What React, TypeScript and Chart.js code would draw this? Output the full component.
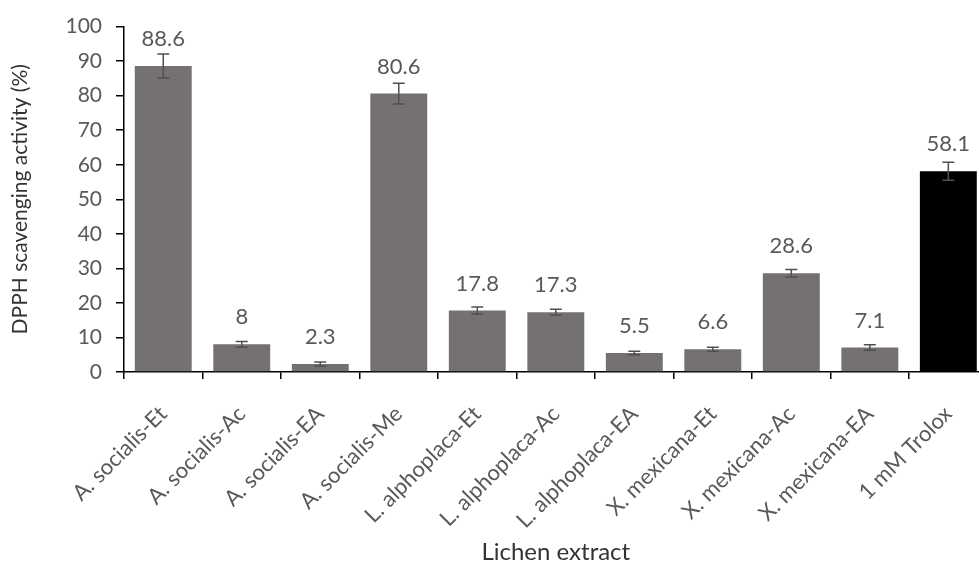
import React, { useEffect, useRef } from "react";
import { Chart, registerables } from "chart.js";

Chart.register(...registerables);

const categories = [
  "A. socialis-Et",
  "A. socialis-Ac",
  "A. socialis-EA",
  "A. socialis-Me",
  "L. alphoplaca-Et",
  "L. alphoplaca-Ac",
  "L. alphoplaca-EA",
  "X. mexicana-Et",
  "X. mexicana-Ac",
  "X. mexicana-EA",
  "1 mM Trolox",
];
const values = [88.6, 8, 2.3, 80.6, 17.8, 17.3, 5.5, 6.6, 28.6, 7.1, 58.1];
const errors = [3.5, 0.8, 0.6, 3.0, 1.0, 0.9, 0.5, 0.6, 1.1, 0.8, 2.6];
const barColors = [
  "#767171", "#767171", "#767171", "#767171", "#767171", "#767171",
  "#767171", "#767171", "#767171", "#767171", "#000000",
];
const yMin = 0;
const yMax = 100;
const yStep = 10;

const FONT = "Lato, 'Open Sans', sans-serif";
const TEXT = "#595959";

const errorAndLabels = {
  id: "errorAndLabels",
  afterDatasetsDraw(chart: any) {
    const ctx = chart.ctx;
    const meta = chart.getDatasetMeta(0);
    const y = chart.scales.y;
    ctx.save();
    meta.data.forEach((bar: any, i: number) => {
      const x = bar.x;
      const v = values[i];
      const e = errors[i];
      const yt = y.getPixelForValue(v + e);
      const yb = y.getPixelForValue(v - e);
      ctx.strokeStyle = "#505050";
      ctx.lineWidth = 1.5;
      ctx.beginPath();
      ctx.moveTo(x, yt);
      ctx.lineTo(x, yb);
      ctx.moveTo(x - 6, yt);
      ctx.lineTo(x + 6, yt);
      ctx.moveTo(x - 6, yb);
      ctx.lineTo(x + 6, yb);
      ctx.stroke();
      ctx.fillStyle = TEXT;
      ctx.font = `22px ${FONT}`;
      ctx.textAlign = "center";
      ctx.textBaseline = "middle";
      ctx.fillText(String(v), x, y.getPixelForValue(v) - 27);
    });
    ctx.restore();
  },
};

export default function App() {
  const ref = useRef<HTMLCanvasElement>(null);
  useEffect(() => {
    document.body.style.margin = "0";
    const chart = new Chart(ref.current as HTMLCanvasElement, {
      type: "bar",
      data: {
        labels: categories,
        datasets: [
          {
            data: values,
            backgroundColor: barColors,
            borderWidth: 0,
            barPercentage: 0.725,
            categoryPercentage: 1,
          },
        ],
      },
      options: {
        animation: false,
        responsive: false,
        layout: { padding: { top: 23, right: 0, left: 0, bottom: 0 } },
        plugins: { legend: { display: false }, tooltip: { enabled: false } },
        scales: {
          x: {
            afterFit(scale: any) {
              scale.height = 199;
            },
            grid: {
              offset: true,
              drawOnChartArea: false,
              drawTicks: true,
              tickLength: 7,
              color: "#000",
              lineWidth: 1.5,
            },
            border: { display: true, color: "#000", width: 1.5 },
            ticks: {
              color: TEXT,
              font: { family: FONT, size: 22 },
              minRotation: 45,
              maxRotation: 45,
              autoSkip: false,
              padding: 22,
            },
            title: {
              display: true,
              text: "Lichen extract",
              color: "#333",
              font: { family: FONT, size: 24 },
              padding: { top: 0, bottom: 4 },
            },
          },
          y: {
            min: yMin,
            max: yMax,
            afterFit(scale: any) {
              scale.width = 124;
            },
            grid: {
              drawOnChartArea: false,
              drawTicks: true,
              tickLength: 8,
              color: "#000",
              lineWidth: 1.5,
            },
            border: { display: true, color: "#000", width: 1.5 },
            ticks: {
              stepSize: yStep,
              color: TEXT,
              font: { family: FONT, size: 21 },
              padding: 14,
            },
            title: {
              display: true,
              text: "DPPH scavenging activity (%)",
              color: "#333",
              font: { family: FONT, size: 21 },
              padding: { top: 8, bottom: 0 },
            },
          },
        },
      },
      plugins: [errorAndLabels],
    } as any);
    return () => chart.destroy();
  }, []);
  return (
    <div style={{ width: 979, height: 571, overflow: "hidden" }}>
      <canvas ref={ref} width={989} height={571} />
    </div>
  );
}
